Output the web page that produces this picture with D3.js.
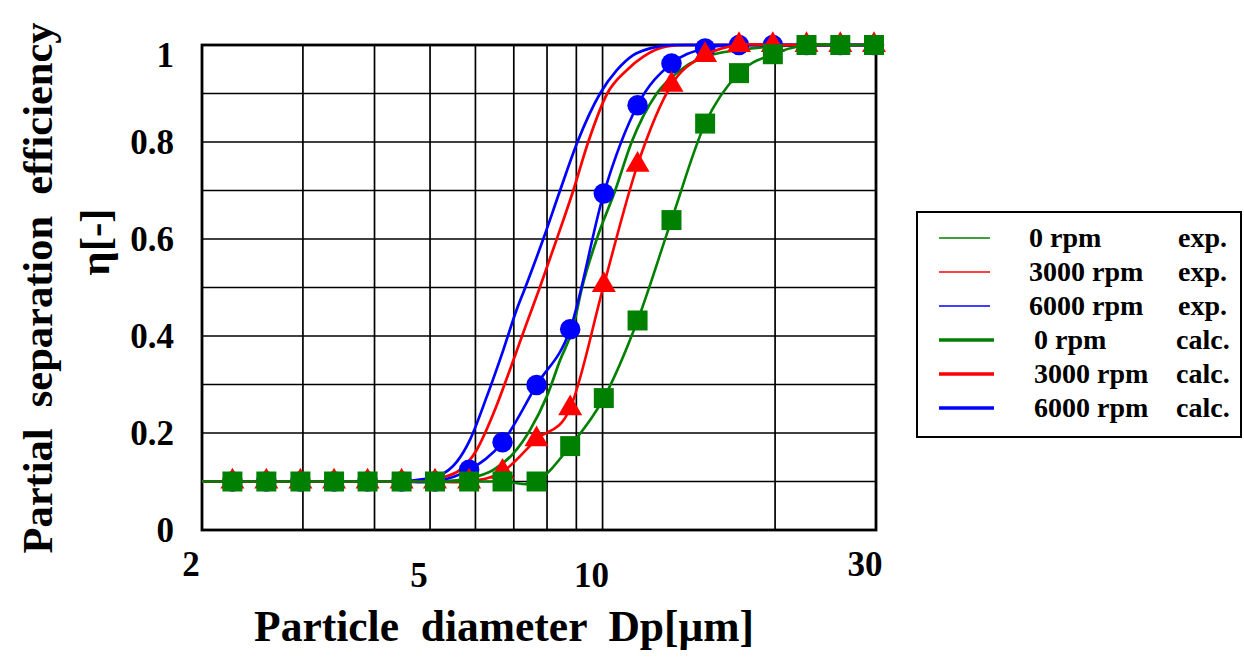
<!DOCTYPE html>
<html>
<head>
<meta charset="utf-8">
<script src="https://cdn.jsdelivr.net/npm/d3@7"></script>
<style>
  html, body { margin: 0; padding: 0; background: #fff; }
  svg text { font-family: "Liberation Serif", "Times New Roman", serif; font-weight: bold; fill: #000; white-space: pre; }
</style>
</head>
<body>
<div id="chart"></div>
<script>
"use strict";

// ── Data ──────────────────────────────────────────────────────────────────────
// measured particle sizes (µm), one marker per size
const sizes   = [2.26, 2.59, 2.97, 3.40, 3.89, 4.46, 5.10, 5.85, 6.69, 7.67,
                 8.78, 10.05, 11.51, 13.19, 15.10, 17.30, 19.82, 22.69, 25.99, 29.76];
const exp0    = [0.10, 0.10, 0.10, 0.10, 0.10, 0.10, 0.10, 0.10, 0.10, 0.10,
                 0.173, 0.272, 0.432, 0.639, 0.838, 0.942, 0.981, 1.0, 1.0, 1.0];
const exp3000 = [0.10, 0.10, 0.10, 0.10, 0.10, 0.10, 0.10, 0.10, 0.12, 0.187,
                 0.251, 0.505, 0.753, 0.918, 0.979, 1.0, 1.0, 1.0, 1.0, 1.0];
const exp6000 = [0.10, 0.10, 0.10, 0.10, 0.10, 0.10, 0.10, 0.124, 0.181, 0.299,
                 0.414, 0.694, 0.876, 0.962, 0.993, 1.0, 1.0, 1.0, 1.0, 1.0];

// calculated curves
const calcD0    = [2.0, 5.20, 5.87, 6.45, 6.99, 7.47, 7.99, 8.43, 8.89, 9.20,
                   9.77, 10.52, 11.24, 12.43, 13.66, 14.79, 17.37, 22.1, 30];
const calc0     = [0.10, 0.10, 0.107, 0.124, 0.158, 0.206, 0.275, 0.35, 0.419, 0.498,
                   0.6, 0.7, 0.8, 0.9, 0.948, 0.972, 0.99, 0.999, 1.0];
const calcD3000 = [2.0, 4.80, 5.20, 5.64, 6.03, 6.45, 6.89, 7.37, 7.76,
                   8.32, 8.89, 9.44, 10.19, 11.02, 11.78, 12.94, 14.03, 30];
const calc3000  = [0.10, 0.10, 0.107, 0.124, 0.165, 0.24, 0.33, 0.426, 0.498,
                   0.6, 0.7, 0.8, 0.9, 0.948, 0.976, 0.997, 1.0, 1.0];
const calcD6000 = [2.0, 4.43, 4.80, 5.20, 5.57, 5.87, 6.28, 6.71, 7.08, 7.32,
                   7.88, 8.43, 9.04, 9.90, 10.59, 11.31, 12.10, 13.27, 30];
const calc6000  = [0.10, 0.10, 0.104, 0.113, 0.141, 0.186, 0.275, 0.371, 0.454, 0.498,
                   0.6, 0.7, 0.8, 0.9, 0.948, 0.979, 0.993, 1.0, 1.0];

const xGrid      = [2, 3, 4, 5, 6, 7, 8, 9, 10, 20, 30];
const xTickVals  = [2, 5, 10, 30];
const yTickVals  = [0, 0.2, 0.4, 0.6, 0.8, 1];
const legendRows = ["0 rpm", "3000 rpm", "6000 rpm", "0 rpm", "3000 rpm", "6000 rpm"];
const legendKind = ["exp.", "exp.", "exp.", "calc.", "calc.", "calc."];

const GREEN = "#008000", RED = "#ff0000", BLUE = "#0000ff";

// ── SVG ───────────────────────────────────────────────────────────────────────
const W = 1244, H = 657;
const P = { left: 202, right: 876, top: 45, bottom: 530 };

const svg = d3.select("#chart").append("svg")
  .attr("width", W).attr("height", H);

const x = d3.scaleLog().domain([2, 30]).range([P.left, P.right]);
const y = d3.scaleLinear().domain([0, 1]).range([P.bottom, P.top]);

// ── Grid ──
const grid = svg.append("g");
grid.selectAll(".vg").data(xGrid).join("line")
  .attr("x1", (d) => x(d)).attr("x2", (d) => x(d))
  .attr("y1", P.top).attr("y2", P.bottom)
  .attr("stroke", "#000").attr("stroke-width", 1.7);
grid.selectAll(".hg").data(d3.range(0, 11).map((i) => i / 10)).join("line")
  .attr("x1", P.left).attr("x2", P.right)
  .attr("y1", (d) => y(d)).attr("y2", (d) => y(d))
  .attr("stroke", "#000").attr("stroke-width", 1.7);
svg.append("rect")
  .attr("x", P.left).attr("y", P.top)
  .attr("width", P.right - P.left).attr("height", P.bottom - P.top)
  .attr("fill", "none").attr("stroke", "#000").attr("stroke-width", 2.8);

// ── Axis labels ──
svg.append("g").selectAll("text").data(yTickVals).join("text")
  .attr("x", 174)
  .attr("y", (d) => y(d) + (d === 1 ? 10 : 0))
  .attr("dy", "0.35em")
  .attr("text-anchor", "end")
  .style("font-size", "35px")
  .text((d) => d === 0 || d === 1 ? d : d.toFixed(1));

svg.append("g").selectAll("text").data(xTickVals).join("text")
  .attr("x", (d) => x(d) - 11)
  .attr("y", (d) => (d === 2 || d === 30) ? 576 : 587)
  .attr("text-anchor", "middle")
  .style("font-size", "35px")
  .text((d) => d);

svg.append("text")
  .attr("x", 504).attr("y", 641)
  .attr("text-anchor", "middle")
  .style("font-size", "43.5px")
  .text("Particle  diameter  Dp[μm]");

svg.append("text")
  .attr("transform", "translate(52,288) rotate(-90)")
  .attr("text-anchor", "middle")
  .style("font-size", "42.5px")
  .text("Partial  separation  efficiency");
svg.append("text")
  .attr("transform", "translate(109,242) rotate(-90)")
  .attr("text-anchor", "middle")
  .style("font-size", "43px")
  .text("η[-]");

// ── Curves ──
const calcLine = d3.line().x((d) => x(d[0])).y((d) => y(d[1])).curve(d3.curveMonotoneX);
const expLine  = d3.line().x((d) => x(d[0])).y((d) => y(d[1])).curve(d3.curveCardinal.tension(0));

const calcSeries = [
  { d: calcD0,    v: calc0,    color: GREEN },
  { d: calcD3000, v: calc3000, color: RED },
  { d: calcD6000, v: calc6000, color: BLUE },
];
svg.append("g").selectAll("path").data(calcSeries).join("path")
  .attr("d", (s) => calcLine(s.d.map((dd, i) => [dd, s.v[i]])))
  .attr("fill", "none").attr("stroke", (s) => s.color).attr("stroke-width", 2.7);

// exp series, drawn so squares end up on top
const expSeries = [
  { v: exp6000, color: BLUE,  sym: d3.symbolCircle,   size: 330 },
  { v: exp3000, color: RED,   sym: d3.symbolTriangle, size: 250 },
  { v: exp0,    color: GREEN, sym: d3.symbolSquare,   size: 400 },
];
expSeries.forEach((s) => {
  const pts = sizes.map((dd, i) => [dd, s.v[i]]);
  const g = svg.append("g");
  g.append("path")
    .attr("d", expLine([[2, s.v[0]], ...pts]))
    .attr("fill", "none").attr("stroke", s.color).attr("stroke-width", 2.6);
  g.selectAll(".m").data(pts).join("path")
    .attr("transform", (p) => `translate(${x(p[0])},${y(p[1])})`)
    .attr("d", d3.symbol().type(s.sym).size(s.size))
    .attr("fill", s.color);
});

// ── Legend ──
const lg = svg.append("g");
lg.append("rect")
  .attr("x", 917).attr("y", 212).attr("width", 324).attr("height", 225)
  .attr("fill", "#fff").attr("stroke", "#000").attr("stroke-width", 2);
const legendColors = [GREEN, RED, BLUE, GREEN, RED, BLUE];
const rowY = d3.scalePoint().domain(d3.range(6)).range([238, 408]);
legendRows.forEach((lab, i) => {
  const calc = legendKind[i] === "calc.";
  lg.append("line")
    .attr("x1", 939).attr("x2", calc ? 994 : 990)
    .attr("y1", rowY(i)).attr("y2", rowY(i))
    .attr("stroke", legendColors[i]).attr("stroke-width", calc ? 3.5 : 1.5);
  lg.append("text")
    .attr("x", calc ? 1034 : 1029).attr("y", rowY(i)).attr("dy", "0.33em")
    .style("font-size", "28px").text(lab);
  lg.append("text")
    .attr("x", calc ? 1176 : 1178).attr("y", rowY(i)).attr("dy", "0.33em")
    .style("font-size", "28px").text(legendKind[i]);
});
</script>
</body>
</html>
